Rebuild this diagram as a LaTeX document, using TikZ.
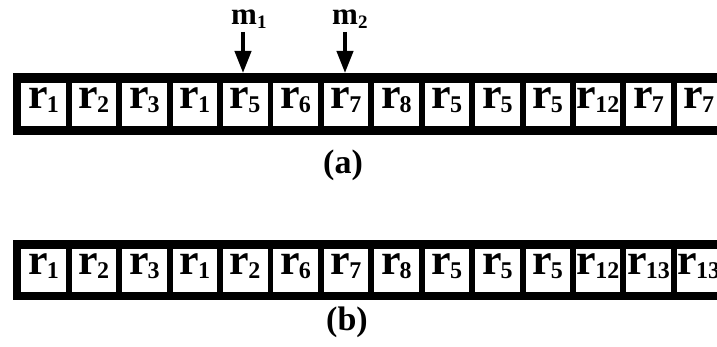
\documentclass[tikz,border=0pt]{standalone}
\usepackage{fontspec}
\setmainfont{Liberation Serif}
\usetikzlibrary{arrows.meta}
\newcommand\rsub[1]{{\fontsize{44}{44}\selectfont r}\kern-1pt\raisebox{-4pt}{\fontsize{24}{24}\selectfont #1}}
\begin{document}
\begin{tikzpicture}[x=1pt,y=-1pt,
  cell/.style={fill=white, draw=black, line width=0.8pt, minimum width=45.5pt, minimum height=44pt,
    inner sep=0pt, text height=15pt, text depth=6pt, font=\bfseries},
  lbl/.style={font=\bfseries\fontsize{34}{34}\selectfont, inner sep=0pt},
  mlbl/.style={font=\bfseries\fontsize{31}{31}\selectfont, inner sep=0pt, anchor=base west},
  ptr/.style={line width=4pt, -{Triangle[width=16pt,length=22pt]}}]
\clip (0,0) rectangle (717,347);
\fill[white] (0,0) rectangle (717,347);
% bars
\fill[black] (13,73) rectangle (730,135);
\fill[black] (13,240) rectangle (730,300);
\coordinate (atop) at (0,73);
% cells row (a)
\foreach \t [count=\i from 0] in {1,2,3,1,5,6,7,8,5,5,5,12,7,7}
  \node[cell] (a\i) at (43.5+50.42*\i,104.5) {\rsub{\t}};
% cells row (b)
\foreach \t [count=\i from 0] in {1,2,3,1,2,6,7,8,5,5,5,12,13,13}
  \node[cell] (b\i) at (43.5+50.42*\i,270.5) {\rsub{\t}};
% pointer labels
\node[mlbl] (m1) at (231,25) {m\raisebox{-4pt}{\fontsize{19}{19}\selectfont 1}};
\node[mlbl] (m2) at (332,25) {m\raisebox{-4pt}{\fontsize{19}{19}\selectfont 2}};
\coordinate (m1s) at (243,32);
\coordinate (m2s) at (345,32);
\draw[ptr] (m1s) -- (m1s |- atop);
\draw[ptr] (m2s) -- (m2s |- atop);
% captions
\node[lbl] (capa) at (343,165) {(a)};
\node[lbl] (capb) at (347,322) {(b)};
\end{tikzpicture}
\end{document}
